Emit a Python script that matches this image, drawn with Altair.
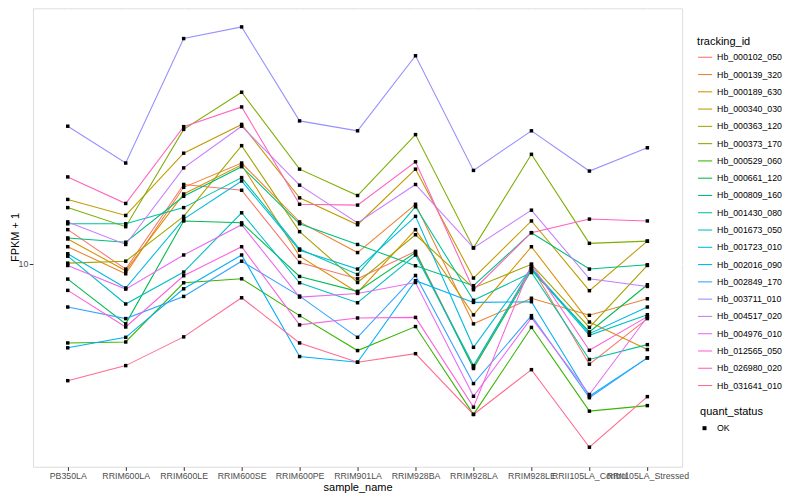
import altair as alt
import pandas as pd

samples = ["PB350LA", "RRIM600LA", "RRIM600LE", "RRIM600SE", "RRIM600PE", "RRIM901LA",
           "RRIM928BA", "RRIM928LA", "RRIM928LE", "RRII105LA_Control", "RRII105LA_Stressed"]

ids = ["Hb_000102_050", "Hb_000139_320", "Hb_000189_630", "Hb_000340_030", "Hb_000363_120",
       "Hb_000373_170", "Hb_000529_060", "Hb_000661_120", "Hb_000809_160", "Hb_001430_080",
       "Hb_001673_050", "Hb_001723_010", "Hb_002016_090", "Hb_002849_170", "Hb_003711_010",
       "Hb_004517_020", "Hb_004976_010", "Hb_012565_050", "Hb_026980_020", "Hb_031641_010"]

colors = ["#F8766D", "#EA8331", "#D89000", "#C09B00", "#A3A500", "#7CAE00", "#39B600",
          "#00BB4E", "#00BF7D", "#00C1A3", "#00BFC4", "#00BAE0", "#00B0F6", "#35A2FF",
          "#9590FF", "#C77CFF", "#E76BF3", "#FA62DB", "#FF62BC", "#FF6C90"]

hb_000102_050 = [13.0, 9.60, 18.4, 17.6, 10.1, 8.91, 11.0, 4.51, 9.77, 4.62, 6.56]
hb_000139_320 = [11.4, 9.26, 18.0, 21.7, 13.8, 10.9, 15.8, 6.30, 7.67, 6.73, 7.64]
hb_000189_630 = [12.1, 9.48, 17.1, 21.4, 10.6, 8.02, 13.0, 6.75, 11.4, 6.39, 5.17]
hb_000340_030 = [16.4, 14.5, 23.4, 29.2, 16.6, 13.5, 20.7, 8.96, 13.9, 8.13, 11.9]
hb_000363_120 = [10.05, 10.2, 14.4, 24.8, 12.8, 8.66, 12.5, 8.30, 9.96, 6.13, 9.87]
hb_000373_170 = [15.4, 13.3, 28.1, 37.4, 20.7, 16.9, 27.0, 11.3, 23.2, 11.7, 11.9]
hb_000529_060 = [5.44, 5.48, 8.64, 8.91, 6.71, 5.13, 6.17, 3.14, 6.13, 3.22, 3.36]
hb_000661_120 = [8.89, 6.30, 13.9, 13.7, 9.07, 8.09, 10.9, 4.47, 9.51, 5.92, 8.51]
hb_000809_160 = [12.2, 11.8, 16.8, 21.1, 13.6, 11.6, 9.85, 8.45, 12.7, 9.60, 9.92]
hb_001430_080 = [13.6, 13.6, 15.4, 19.4, 11.2, 9.21, 15.5, 7.55, 9.35, 4.79, 5.37]
hb_001673_050 = [10.6, 7.34, 9.38, 14.8, 8.64, 7.41, 10.7, 4.57, 9.62, 5.77, 6.76]
hb_001723_010 = [10.8, 8.30, 14.1, 18.9, 11.1, 9.60, 14.4, 5.26, 9.70, 5.84, 7.17]
hb_002016_090 = [5.24, 5.68, 8.25, 10.7, 4.90, 4.69, 8.78, 7.43, 7.47, 3.61, 4.85]
hb_002849_170 = [7.17, 6.56, 7.78, 10.2, 7.80, 5.68, 9.14, 3.98, 6.71, 3.57, 4.85]
hb_003711_010 = [28.8, 21.7, 56.5, 61.8, 30.0, 27.8, 49.5, 20.5, 27.8, 20.4, 24.4]
hb_004517_020 = [13.8, 11.6, 20.9, 28.8, 18.3, 13.7, 18.4, 11.3, 15.1, 8.91, 8.40]
hb_004976_010 = [9.87, 8.23, 10.7, 13.5, 7.74, 7.96, 8.66, 3.61, 6.59, 3.66, 6.64]
hb_012565_050 = [8.15, 6.15, 9.12, 11.4, 6.25, 6.59, 6.62, 3.32, 9.96, 5.14, 6.66]
hb_026980_020 = [19.5, 15.9, 28.7, 33.4, 15.8, 15.7, 21.9, 8.19, 12.7, 14.1, 13.9]
hb_031641_010 = [4.07, 4.57, 5.70, 7.70, 5.44, 4.69, 5.01, 3.14, 4.43, 2.44, 3.60]

series = [hb_000102_050, hb_000139_320, hb_000189_630, hb_000340_030, hb_000363_120,
          hb_000373_170, hb_000529_060, hb_000661_120, hb_000809_160, hb_001430_080,
          hb_001673_050, hb_001723_010, hb_002016_090, hb_002849_170, hb_003711_010,
          hb_004517_020, hb_004976_010, hb_012565_050, hb_026980_020, hb_031641_010]

rows = []
for tid, vals in zip(ids, series):
    for s, v in zip(samples, vals):
        rows.append({"tracking_id": tid, "sample_name": s, "fpkm": v, "quant_status": "OK"})
df = pd.DataFrame(rows)

FONT = "Liberation Sans"

x_enc = alt.X("sample_name:N", sort=samples,
              scale=alt.Scale(type="point", padding=0.6),
              axis=alt.Axis(title="sample_name", labelAngle=0, labelOverlap=False,
                            labelBound=False, labelFlush=False, grid=True,
                            gridColor="white", gridWidth=1.1, domain=False,
                            tickColor="#333333", tickSize=3.7, tickWidth=1,
                            labelPadding=1.5, labelFontSize=8.8, labelColor="#4D4D4D",
                            titleFontSize=11, titleColor="black", titleFontWeight="normal",
                            titlePadding=1))
y_enc = alt.Y("fpkm:Q",
              scale=alt.Scale(type="log", domain=[2.10, 71.3], nice=False),
              axis=alt.Axis(title="FPKM + 1", values=[10], format="d", grid=True,
                            gridColor="white", gridWidth=1.1, domain=False,
                            tickColor="#333333", tickSize=3.7, tickWidth=1,
                            labelPadding=1.5, labelFontSize=8.8, labelColor="#4D4D4D",
                            titleFontSize=11, titleColor="black", titleFontWeight="normal",
                            titleX=-17, titleY=229, titleBaseline="middle",
                            titleAlign="center", titleAngle=270))

base = alt.Chart(df)

lines = base.mark_line(strokeWidth=1.07).encode(
    x=x_enc,
    y=y_enc,
    color=alt.Color("tracking_id:N",
                    scale=alt.Scale(domain=ids, range=colors),
                    legend=alt.Legend(title="tracking_id", orient="none",
                                      legendX=665, legendY=28,
                                      symbolType="stroke", symbolStrokeWidth=1.07,
                                      symbolSize=200, labelFontSize=8.8,
                                      labelColor="black", titleFontSize=11,
                                      titleFontWeight="normal", titleColor="black",
                                      rowPadding=4.3, labelOffset=4, titlePadding=2)),
    detail="tracking_id:N",
)

points = base.mark_point(filled=True, size=12, opacity=1).encode(
    x=x_enc,
    y=y_enc,
    shape=alt.Shape("quant_status:N",
                    scale=alt.Scale(domain=["OK"], range=["square"]),
                    legend=alt.Legend(title="quant_status", orient="none",
                                      legendX=668, legendY=398,
                                      symbolFillColor="black", symbolStrokeColor="black",
                                      symbolSize=16, labelFontSize=8.8,
                                      labelColor="black", titleFontSize=11,
                                      titleFontWeight="normal", titleColor="black",
                                      labelOffset=8, titlePadding=7)),
    color=alt.value("black"),
)

chart = alt.layer(lines, points).properties(
    width=650, height=459,
    autosize=alt.AutoSizeParams(type="none"),
    padding={"left": 25, "top": 0, "right": 110, "bottom": 32},
    background="white",
).configure_view(fill="#EBEBEB", strokeWidth=0).configure(font=FONT)

chart.save("out.html", embed_options={"renderer": "svg", "actions": False})
